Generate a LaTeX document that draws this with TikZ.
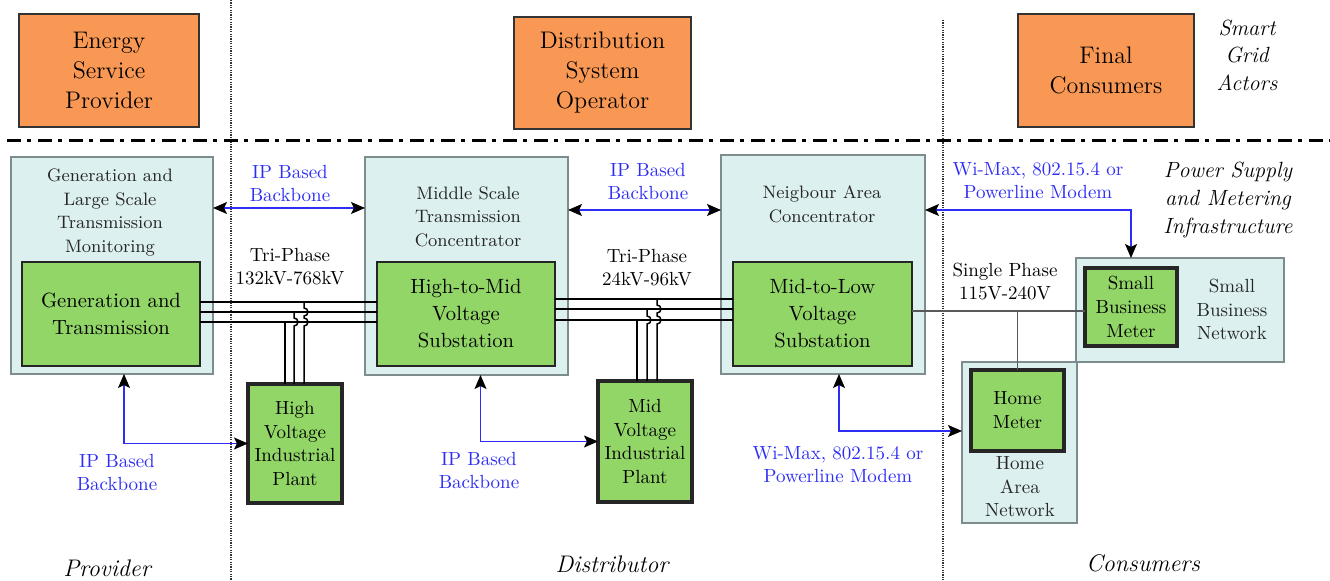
\documentclass[tikz,border=0pt]{standalone}
\usetikzlibrary{arrows.meta}

\definecolor{actorfill}{RGB}{249,152,84}
\definecolor{unitfill}{RGB}{146,214,104}
\definecolor{areafill}{RGB}{221,240,240}
\definecolor{areaedge}{RGB}{125,140,140}
\definecolor{netblue}{RGB}{45,45,245}

\tikzset{
  actor/.style={draw=black!80, line width=0.9pt, fill=actorfill, align=center,
    inner sep=0pt, outer sep=0pt, font=\fontsize{12}{15}\selectfont},
  area/.style={draw=areaedge, line width=0.8pt, fill=areafill, inner sep=0pt, outer sep=0pt},
  unit/.style={draw=black!85, line width=1pt, fill=unitfill, align=center,
    inner sep=0pt, outer sep=0pt, font=\fontsize{10.3}{13.5}\selectfont},
  meter/.style={unit, line width=1.7pt, font=\fontsize{9.5}{11.9}\selectfont},
  caption/.style={align=center, text=black!85, font=\fontsize{9}{11.75}\selectfont},
  note/.style={align=center, font=\fontsize{9.5}{11.5}\selectfont},
  netnote/.style={note, text=netblue},
  remark/.style={align=center, font=\fontsize{11}{13.8}\selectfont\itshape},
  side/.style={font=\fontsize{12}{14}\selectfont\itshape},
  link/.style={netblue, line width=0.55pt,
    >={Stealth[length=7pt,width=6pt,inset=1.5pt,color=black]}, <->},
  bus/.style={black, line width=0.75pt},
  phase/.style={black!65, line width=0.6pt},
  divider/.style={black, line width=1.5pt, dash pattern=on 7pt off 3pt on 2pt off 3.5pt},
  split/.style={black!80, line width=0.6pt, dash pattern=on 0.6pt off 0.6pt}
}

\begin{document}
\begin{tikzpicture}[x=0.5pt, y=-0.5pt]
  \useasboundingbox (0,0) rectangle (1330,581);

  % actor / infrastructure separation
  \draw[split] (231,0) -- (231,581);
  \draw[split] (943,20) -- (943,581);
  \draw[divider] (7,141) -- (1330,141);

  % Smart grid actors
  \node[actor, minimum width=90pt, minimum height=56.5pt] (esp) at (109,70.5) {Energy\\Service\\Provider};
  \node[actor, minimum width=88.5pt, minimum height=56pt] (dso) at (602.5,73) {Distribution\\System\\Operator};
  \node[actor, minimum width=88pt, minimum height=56.5pt] (fc) at (1106,70.5) {Final\\Consumers};
  \node[remark] (actors) at (1247,55) {Smart\\Grid\\Actors};

  % Provider side
  \node[area, minimum width=101pt, minimum height=108.5pt] (genmon) at (112,265.5) {};
  \node[caption] (genmoncap) at (110,212.5) {Generation and\\Large Scale\\Transmission\\Monitoring};
  \node[unit, minimum width=89pt, minimum height=52pt] (gt) at (111,314) {Generation and\\Transmission};

  % Distributor side
  \node[area, minimum width=101.5pt, minimum height=109pt] (midcon) at (466.5,266) {};
  \node[caption] (midconcap) at (468,216.5) {Middle Scale\\Transmission\\Concentrator};
  \node[unit, minimum width=89pt, minimum height=52pt] (hms) at (466,314) {High-to-Mid\\Voltage\\Substation};

  \node[area, minimum width=102pt, minimum height=109.5pt] (nac) at (823,264.5) {};
  \node[caption] (naccap) at (822,204.5) {Neigbour Area\\Concentrator};
  \node[unit, minimum width=89.5pt, minimum height=52pt] (mls) at (822.5,314) {Mid-to-Low\\Voltage\\Substation};

  \node[meter, minimum width=47pt, minimum height=59.5pt] (hvp) at (295,443.5) {High\\Voltage\\Industrial\\Plant};
  \node[meter, minimum width=47pt, minimum height=60.5pt] (mvp) at (645,441.5) {Mid\\Voltage\\Industrial\\Plant};

  % Consumer side
  \node[area, minimum width=104pt, minimum height=52pt] (sbn) at (1180,310) {};
  \node[meter, minimum width=46pt, minimum height=39pt] (sbm) at (1131,307) {Small\\Business\\Meter};
  \node[caption, font=\fontsize{9.5}{11.8}\selectfont] (sbncap) at (1232,309.5) {Small\\Business\\Network};

  \node[area, minimum width=57.5pt, minimum height=80.5pt] (han) at (1019.5,442.5) {};
  \node[meter, minimum width=46.5pt, minimum height=40.5pt] (hm) at (1017.5,410.5) {Home\\Meter};
  \node[caption, font=\fontsize{9.5}{11.8}\selectfont] (hancap) at (1020,487) {Home\\Area\\Network};

  \node[remark] (psm) at (1228,200) {Power Supply\\and Metering\\Infrastructure};

  % Tri-phase lines
  \foreach \dy in {6,1,-4}
    \draw[bus] ([yshift=\dy pt]gt.east) -- ([yshift=\dy pt]hms.west);
  \foreach \dy in {7.5,2.5,-3}
    \draw[bus] ([yshift=\dy pt]hms.east) -- ([yshift=\dy pt]mls.west);

  \draw[bus] ([xshift=-5pt]hvp.north) -- ++(0,-62);
  \draw[bus] ([xshift=-0.5pt]hvp.north) -- ++(0,-58)
    arc[start angle=-90, end angle=90, radius=2pt] -- ++(0,-6);
  \draw[bus] ([xshift=4.5pt]hvp.north) -- ++(0,-58)
    arc[start angle=-90, end angle=90, radius=2pt] -- ++(0,-2)
    arc[start angle=-90, end angle=90, radius=2pt] -- ++(0,-6);

  \draw[bus] ([xshift=-4pt]mvp.north) -- ++(0,-61);
  \draw[bus] ([xshift=1pt]mvp.north) -- ++(0,-57)
    arc[start angle=-90, end angle=90, radius=2pt] -- ++(0,-7);
  \draw[bus] ([xshift=6pt]mvp.north) -- ++(0,-57)
    arc[start angle=-90, end angle=90, radius=2pt] -- ++(0,-3)
    arc[start angle=-90, end angle=90, radius=2pt] -- ++(0,-6);

  \node[note] (tpa) at (290,267) {Tri-Phase\\132kV-768kV};
  \node[note] (tpb) at (647,267.5) {Tri-Phase\\24kV-96kV};

  % Single phase line
  \coordinate (spj) at ([yshift=1.5pt]mls.east);
  \draw[phase] (spj) -- (spj -| sbm.west);
  \draw[phase] (spj -| hm.north) -- (hm.north);
  \node[note] (spl) at (1005,281.5) {Single Phase\\115V-240V};

  % Communication links
  \coordinate (bba) at ([yshift=28.75pt]genmon.east);
  \coordinate (bbb) at ([yshift=28pt]midcon.east);
  \coordinate (bbc) at ([yshift=27.25pt]nac.east);
  \draw[link] (bba) -- (bba -| midcon.west);
  \draw[link] (bbb) -- (bbb -| nac.west);
  \draw[link] (bbc) -| (sbm.north |- sbn.north);
  \draw[link] ([xshift=6pt]genmon.south) |- (hvp.west);
  \draw[link] ([xshift=7pt]midcon.south) |- (mvp.west);
  \draw[link] ([xshift=8pt]nac.south) |- ([yshift=5.75pt]han.west);

  \node[netnote] (ipa) at (290,183.5) {IP Based\\Backbone};
  \node[netnote] (ipb) at (648,181.5) {IP Based\\Backbone};
  \node[netnote] (wma) at (1038,181) {Wi-Max, 802.15.4 or\\Powerline Modem};
  \node[netnote] (ipc) at (117,472.5) {IP Based\\Backbone};
  \node[netnote] (ipd) at (479,471) {IP Based\\Backbone};
  \node[netnote] (wmb) at (838,465) {Wi-Max, 802.15.4 or\\Powerline Modem};

  % Domains
  \node[side] (prov) at (107,568) {Provider};
  \node[side] (dist) at (612,564) {Distributor};
  \node[side] (cons) at (1143,563) {Consumers};
\end{tikzpicture}
\end{document}
